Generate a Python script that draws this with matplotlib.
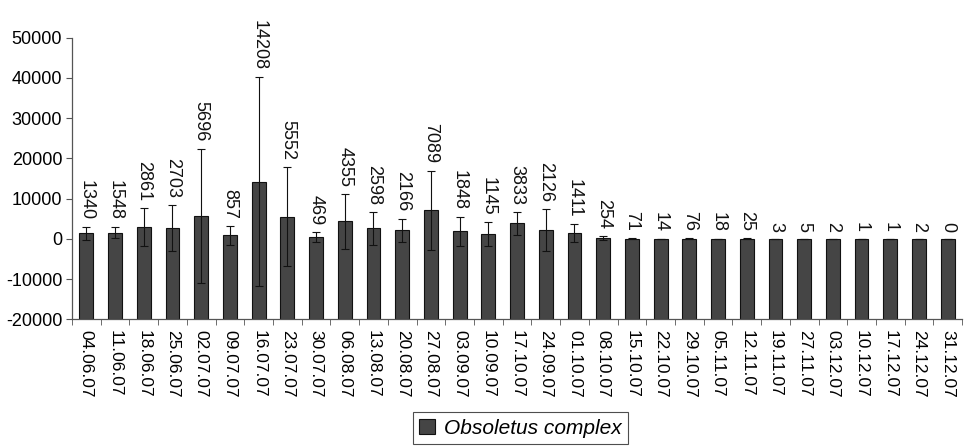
import matplotlib
matplotlib.use("Agg")
import matplotlib.pyplot as plt
import numpy as np

plt.rcParams["font.family"] = ["Liberation Sans", "DejaVu Sans"]

# Weekly counts (Obsoletus complex).
dates = [
    "04.06.07", "11.06.07", "18.06.07", "25.06.07", "02.07.07", "09.07.07",
    "16.07.07", "23.07.07", "30.07.07", "06.08.07", "13.08.07", "20.08.07",
    "27.08.07", "03.09.07", "10.09.07", "17.10.07", "24.09.07", "01.10.07",
    "08.10.07", "15.10.07", "22.10.07", "29.10.07", "05.11.07", "12.11.07",
    "19.11.07", "27.11.07", "03.12.07", "10.12.07", "17.12.07", "24.12.07",
    "31.12.07",
]
counts = [
    1340, 1548, 2861, 2703, 5696, 857, 14208, 5552, 469, 4355, 2598, 2166,
    7089, 1848, 1145, 3833, 2126, 1411, 254, 71, 14, 76, 18, 25, 3, 5, 2, 1,
    1, 2, 0,
]
# Standard deviations (estimated from whisker lengths).
errors = [
    1650, 1450, 4700, 5800, 16700, 2300, 26000, 12400, 1300, 6900, 4100, 2850,
    9900, 3550, 3000, 2850, 5200, 2200, 450, 100, 60, 120, 60, 80, 0, 0, 0, 0,
    0, 0, 0,
]

y_min, y_max = -20000, 50000
x = np.arange(len(dates))
counts_arr = np.array(counts)
err_arr = np.array(errors)

fig = plt.figure(figsize=(9.65, 4.46), dpi=100)
ax = fig.add_axes([0.0746, 0.284, 0.9224, 0.6315])

# Bars start at the bottom of the value axis (Excel style crossing).
ax.bar(x, counts_arr - y_min, bottom=y_min, width=0.48, color="#454545",
       edgecolor="#111111", linewidth=0.8, label="Obsoletus complex", zorder=2)
ax.errorbar(x, counts_arr, yerr=err_arr, fmt="none", ecolor="#111111",
            elinewidth=0.8, capsize=3, capthick=0.8, zorder=3)

for xi, v, e in zip(x, counts, errors):
    ax.annotate(str(v), (xi, v + e), xytext=(0, 5), textcoords="offset points",
                rotation=270, ha="center", va="bottom", fontsize=13,
                color="#111111")

ax.set_xlim(-0.5, len(dates) - 0.5)
ax.set_ylim(y_min, y_max)
ax.set_yticks(np.arange(y_min, y_max + 1, 10000))
ax.set_yticklabels([str(t) for t in range(y_min, y_max + 1, 10000)])
ax.set_xticks(x)
ax.set_xticklabels(dates, rotation=270, fontsize=12.5)
ax.set_xticks(np.arange(-0.5, len(dates)), minor=True)
ax.tick_params(axis="x", which="major", length=0, pad=8)
ax.tick_params(axis="x", which="minor", length=4, color="#555555")
ax.tick_params(axis="y", length=4, color="#555555", labelsize=13, pad=3)

for side in ["top", "right"]:
    ax.spines[side].set_visible(False)
for side in ["left", "bottom"]:
    ax.spines[side].set_color("#555555")
    ax.spines[side].set_linewidth(0.9)

leg = fig.legend(loc="center", bbox_to_anchor=(0.539, 0.040), fancybox=False,
                 edgecolor="#222222", prop={"style": "italic", "size": 15},
                 handlelength=0.8, handleheight=0.8, handletextpad=0.4,
                 borderpad=0.3)
leg.get_frame().set_linewidth(0.8)

fig.savefig("out.png", dpi=100)
